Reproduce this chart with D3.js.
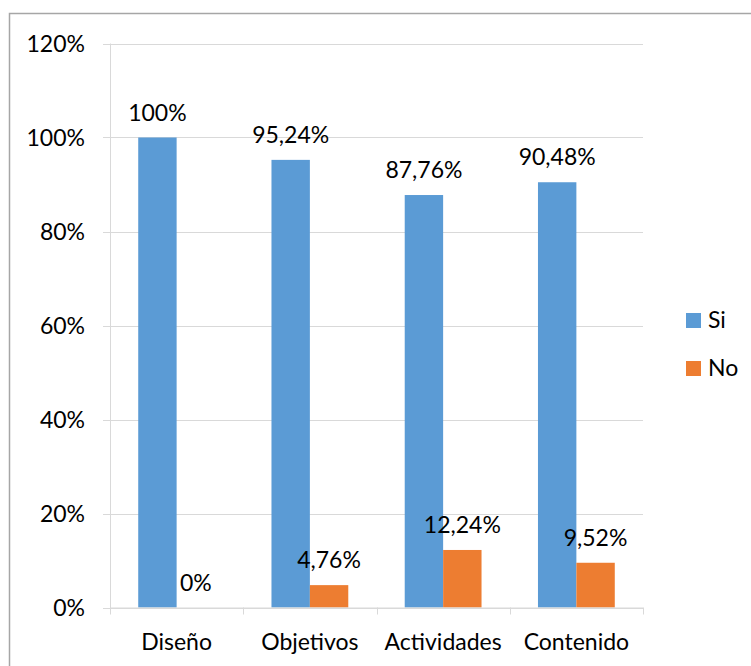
<!DOCTYPE html>
<html>
<head>
<meta charset="utf-8">
<script src="https://cdn.jsdelivr.net/npm/d3@7"></script>
<style>
  html, body { margin: 0; padding: 0; background: #fff; }
  svg { display: block; font-family: Lato, "Open Sans", sans-serif; }
</style>
</head>
<body>
<svg id="chart" width="751" height="666"></svg>
<script>
const categories = ["Diseño", "Objetivos", "Actividades", "Contenido"];
const seriesNames = ["Si", "No"];
const siValues = [100, 95.24, 87.76, 90.48];
const noValues = [0, 4.76, 12.24, 9.52];
const siLabels = ["100%", "95,24%", "87,76%", "90,48%"];
const noLabels = ["0%", "4,76%", "12,24%", "9,52%"];
const yTicks = [0, 20, 40, 60, 80, 100, 120];
const colors = ["#5b9bd5", "#ed7d31"];

(function () {
const svg = d3.select("#chart");
const fontSize = 23;

// outer border
svg.append("rect").attr("x", 9.5).attr("y", 13.5).attr("width", 900).attr("height", 900)
  .attr("fill", "none").attr("stroke", "#a6a6a6").attr("stroke-width", 1.5);

const pLeft = 110, pRight = 643, pTop = 43.5, pBottom = 607.5;
const x0 = d3.scaleBand().domain(categories).range([pLeft, pRight]).padding(0);
const x1 = d3.scaleBand().domain(seriesNames).range([0, x0.bandwidth()]).paddingInner(0).paddingOuter(0.735);
const y = d3.scaleLinear().domain([0, 120]).range([pBottom, pTop]);

// gridlines
svg.append("g").selectAll("line").data(yTicks).join("line")
  .attr("x1", pLeft - 7).attr("x2", pRight)
  .attr("y1", d => Math.round(y(d)) + 0.5).attr("y2", d => Math.round(y(d)) + 0.5)
  .attr("stroke", "#d9d9d9").attr("stroke-width", 1);

// y axis line
svg.append("line").attr("x1", pLeft + 0.5).attr("x2", pLeft + 0.5)
  .attr("y1", y(120)).attr("y2", y(0) + 0.5).attr("stroke", "#d9d9d9");

// y tick labels
svg.append("g").selectAll("text").data(yTicks).join("text")
  .attr("x", 85).attr("y", d => y(d) + 8)
  .attr("text-anchor", "end").attr("font-size", fontSize).attr("fill", "#000")
  .text(d => d + "%");

const rows = categories.map((c, i) => ({ cat: c, vals: [siValues[i], noValues[i]], labels: [siLabels[i], noLabels[i]] }));

// bars
const groups = svg.append("g").selectAll("g").data(rows).join("g")
  .attr("transform", d => `translate(${x0(d.cat)},0)`);
groups.selectAll("rect").data(d => seriesNames.map((s, j) => ({ s, v: d.vals[j], j })))
  .join("rect")
  .attr("x", d => x1(d.s)).attr("width", x1.bandwidth())
  .attr("y", d => y(d.v)).attr("height", d => y(0) - y(d.v))
  .attr("fill", d => colors[d.j]);

// data labels
groups.selectAll("text").data(d => seriesNames.map((s, j) => ({ s, v: d.vals[j], l: d.labels[j] })))
  .join("text")
  .attr("x", d => x1(d.s) + x1.bandwidth() / 2)
  .attr("y", d => y(d.v) - 17)
  .attr("text-anchor", "middle").attr("font-size", fontSize).attr("fill", "#000")
  .text(d => d.l);

// x axis baseline and ticks
svg.append("line").attr("x1", pLeft).attr("x2", pRight).attr("y1", y(0) + 0.5).attr("y2", y(0) + 0.5)
  .attr("stroke", "#d9d9d9");
const tickXs = categories.map(c => x0(c)).concat([pRight]);
svg.append("g").selectAll("line").data(tickXs).join("line")
  .attr("x1", d => Math.round(d) + 0.5).attr("x2", d => Math.round(d) + 0.5)
  .attr("y1", y(0)).attr("y2", y(0) + 7).attr("stroke", "#d9d9d9");

// category labels
svg.append("g").selectAll("text").data(categories).join("text")
  .attr("x", d => x0(d) + x0.bandwidth() / 2).attr("y", 650)
  .attr("text-anchor", "middle").attr("font-size", fontSize).attr("fill", "#000")
  .text(d => d);

// legend
const legend = svg.append("g").selectAll("g").data(seriesNames).join("g")
  .attr("transform", (d, i) => `translate(686,${313 + i * 48})`);
legend.append("rect").attr("width", 15).attr("height", 15).attr("fill", (d, i) => colors[i]);
legend.append("text").attr("x", 22).attr("y", 15).attr("font-size", fontSize).attr("fill", "#000").text(d => d);
})();
</script>
</body>
</html>
